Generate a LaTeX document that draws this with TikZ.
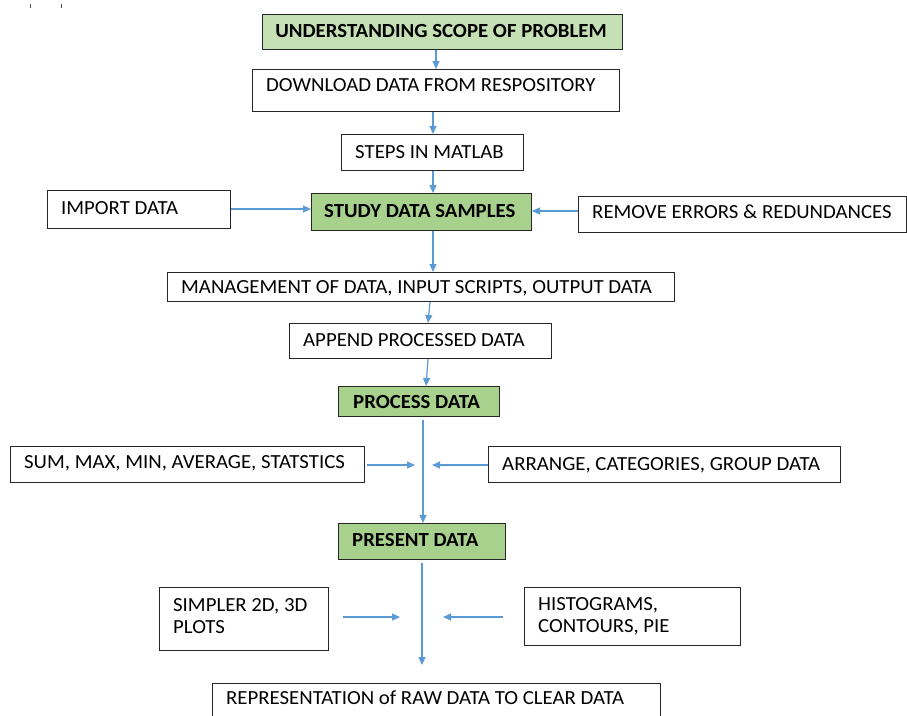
\documentclass[tikz,border=0pt]{standalone}
\usepackage{fontspec}
\setmainfont{Carlito}[FakeStretch=1.04]
\usetikzlibrary{arrows.meta,calc}
\definecolor{arrblue}{HTML}{5B9BD5}
\definecolor{palegreen}{HTML}{C5E0B4}
\definecolor{midgreen}{HTML}{A9D18E}
\begin{document}
\begin{tikzpicture}[x=1pt,y=-1pt,
  box/.style={draw=black!85,line width=1pt,rectangle,inner sep=0pt,anchor=north west},
  gbox/.style={box,fill=midgreen},
  lbl/.style={inner sep=0pt,anchor=base west,font=\fontsize{20}{24}\selectfont},
  blbl/.style={lbl,font=\fontsize{20}{24}\selectfont\bfseries},
  arr/.style={draw=arrblue,line width=1.2pt,-{Triangle[length=8pt,width=7pt]}},
  ln/.style={draw=arrblue,line width=1.2pt}]
\useasboundingbox (0,0) rectangle (907,715);
\clip (0,0) rectangle (907,715);
% tiny marks top-left
\draw[black!70,line width=1pt] (30,4) -- (30,8);
\draw[black!70,line width=1pt] (61,4) -- (61,8);
% boxes
\node[box,fill=palegreen,minimum width=360,minimum height=35] (und) at (262,14) {};
\node[blbl,anchor=base] (undt) at (441,37.5) {UNDERSTANDING SCOPE OF PROBLEM};
\node[box,minimum width=367,minimum height=42] (dl) at (252,69) {};
\node[lbl] (dlt) at (266,91.5) {DOWNLOAD DATA FROM RESPOSITORY};
\node[box,minimum width=182,minimum height=36] (mat) at (341,134) {};
\node[lbl] (matt) at (355,158.5) {STEPS IN MATLAB};
\node[box,minimum width=183,minimum height=38] (imp) at (47,190) {};
\node[lbl] (impt) at (61,214.5) {IMPORT DATA};
\node[gbox,minimum width=220,minimum height=37] (study) at (311,193) {};
\node[blbl] (studyt) at (324,217.5) {STUDY DATA SAMPLES};
\node[box,minimum width=328,minimum height=36] (rem) at (578,196) {};
\node[lbl] (remt) at (592,218.5) {REMOVE ERRORS \& REDUNDANCES};
\node[box,minimum width=507,minimum height=29] (man) at (167,272) {};
\node[lbl] (mant) at (181,293.5) {MANAGEMENT OF DATA, INPUT SCRIPTS, OUTPUT DATA};
\node[box,minimum width=262,minimum height=35] (app) at (289,323) {};
\node[lbl] (appt) at (303,346.5) {APPEND PROCESSED DATA};
\node[gbox,minimum width=161,minimum height=30] (proc) at (338,386) {};
\node[blbl] (proct) at (353,408.5) {PROCESS DATA};
\node[box,minimum width=354,minimum height=36] (sum) at (10,446) {};
\node[lbl] (sumt) at (24,468.5) {SUM, MAX, MIN, AVERAGE, STATSTICS};
\node[box,minimum width=352,minimum height=36] (arr) at (488,446) {};
\node[lbl] (arrt) at (502,470.5) {ARRANGE, CATEGORIES, GROUP DATA};
\node[gbox,minimum width=167,minimum height=36] (pres) at (338,523) {};
\node[blbl] (prest) at (352,546.5) {PRESENT DATA};
\node[box,minimum width=169,minimum height=63] (simp) at (159,587) {};
\node[lbl] (simpt) at (173,611.5) {SIMPLER 2D, 3D};
\node[lbl] (simpt2) at (173,633.5) {PLOTS};
\node[box,minimum width=216,minimum height=58] (hist) at (524,587) {};
\node[lbl] (histt) at (538,610.5) {HISTOGRAMS,};
\node[lbl] (histt2) at (538,632.5) {CONTOURS, PIE};
\node[box,minimum width=448,minimum height=40] (rep) at (212,683) {};
\node[lbl] (rept) at (226,704.5) {REPRESENTATION of RAW DATA TO CLEAR DATA};
% connector guide coordinates
\coordinate (x1) at (436,0);
\coordinate (x2) at (433,0);
\coordinate (x3) at (428,0);
\coordinate (jp) at (423,420);
\coordinate (jq) at (422,563);
\coordinate (jqe) at (422,665);
\coordinate (ym) at (0,465);
% connectors
\draw[arr] (und.south -| x1) -- (dl.north -| x1);
\draw[arr] (dl.south -| x2) -- (mat.north -| x2);
\draw[arr] (mat.south -| x2) -- (study.north -| x2);
\draw[arr] (imp.east |- 0,209) -- (study.west |- 0,209);
\draw[arr] (rem.west |- 0,211) -- (study.east |- 0,211);
\draw[arr] (study.south -| x2) -- (man.north -| x2);
\draw[arr] (man.south -| 430,0) -- (app.north -| 428,0);
\draw[arr] (app.south -| x3) -- (proc.north -| 426,0);
\draw[arr] (jp) -- (pres.north -| jp);
\draw[arr] ([xshift=2]sum.east |- ym) -- (415,465);
\draw[arr] (arr.west |- ym) -- (432,465);
\draw[arr] (jq) -- (jqe);
\draw[arr] (343,617) -- (400,617);
\draw[arr] (503,617) -- (443,617);
\end{tikzpicture}
\end{document}
